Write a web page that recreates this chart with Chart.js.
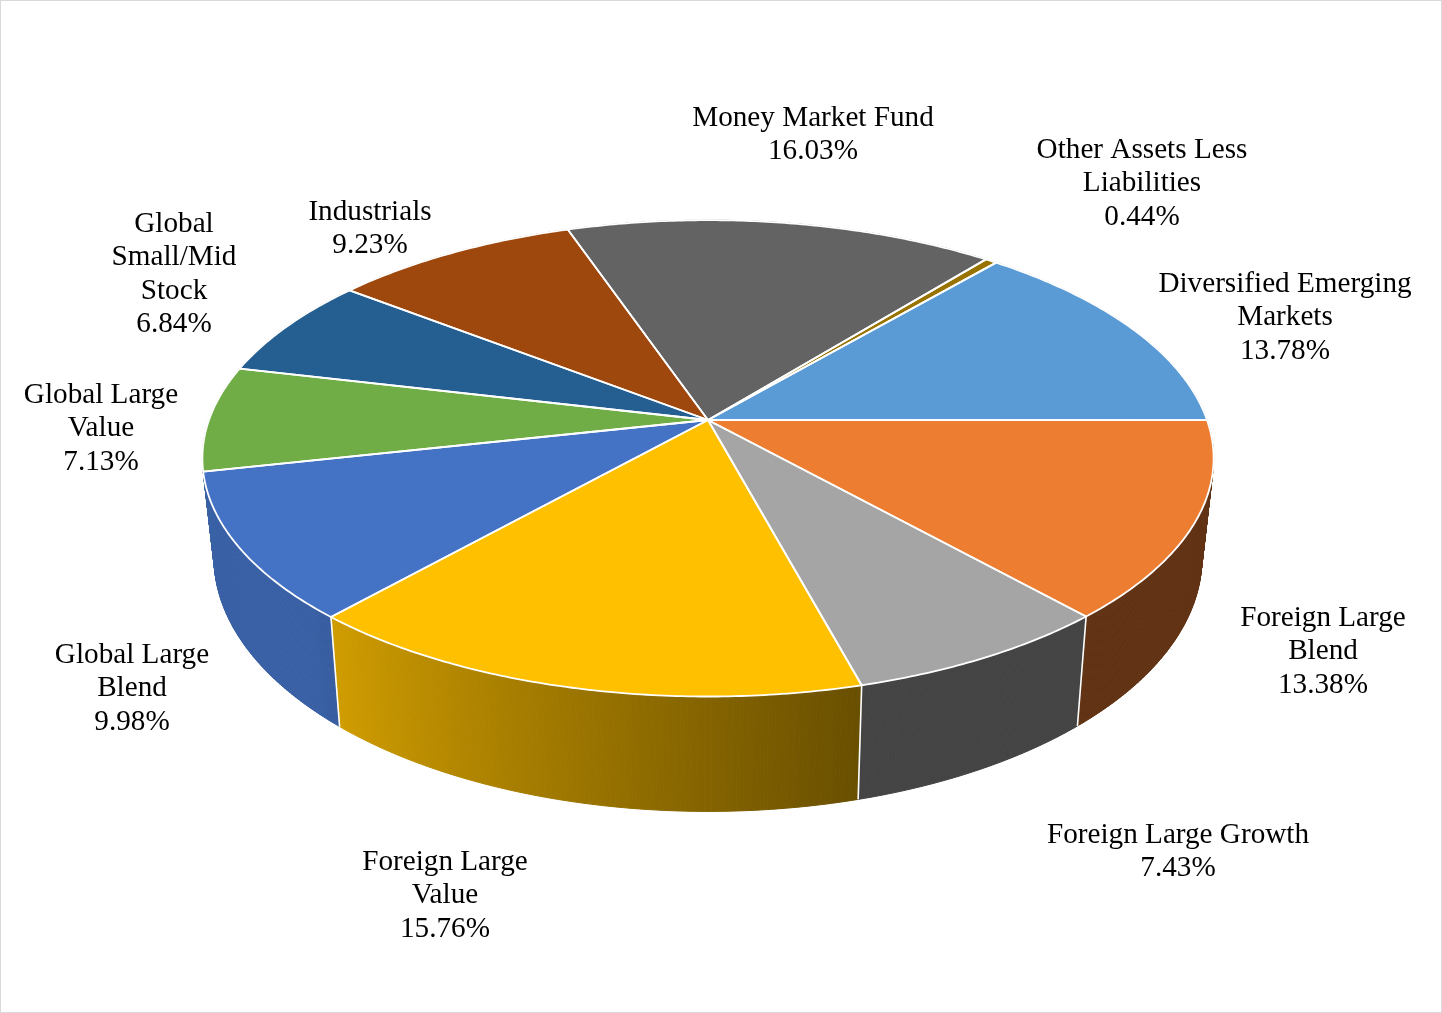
<!DOCTYPE html>
<html>
<head>
<meta charset="utf-8">
<style>
  html, body { margin: 0; padding: 0; background: #fff; }
  #wrap { width: 1440px; height: 1011px; border: 1px solid #d9d9d9; }
  canvas { display: block; }
</style>
<script src="https://cdn.jsdelivr.net/npm/chart.js@4.4.1/dist/chart.umd.min.js"></script>
</head>
<body>
<div id="wrap"><canvas id="chart" width="1440" height="1011"></canvas></div>
<script>
// data, in the order the slices run (clockwise from the right)
const categories = [
    "Diversified Emerging Markets",
    "Foreign Large Blend",
    "Foreign Large Growth",
    "Foreign Large Value",
    "Global Large Blend",
    "Global Large Value",
    "Global Small/Mid Stock",
    "Industrials",
    "Money Market Fund",
    "Other Assets Less Liabilities",
];
const shares = [13.78, 13.38, 7.43, 15.76, 9.98, 7.13, 6.84, 9.23, 16.03, 0.44];
const colors = [
    "#5B9BD5", "#ED7D31", "#A5A5A5", "#FFC000", "#4472C4",
    "#70AD47", "#255E91", "#9E480E", "#636363", "#997300",
];

// label layout: centre x, centre y of first line, wrap width (canvas px)
const labelPos = [
    [1284, 283, 275], [1322, 617, 195], [1177, 834, 300], [444, 861, 195],
    [131, 654, 172], [100, 394, 172], [173, 223, 132], [369, 211, 300],
    [812, 117, 300], [1141, 149, 235],
];

// 3d look
const START_ANGLE = 40.4;   // chart.js rotation, degrees from top
const SCALE_X = 1.2475;     // ellipse half width / radius
const SCALE_Y = 0.58;       // ellipse half height / radius
const PERSP = 0.161;        // near side bigger than far side
const DEPTH = 0.241;        // wall height / radius
const SHRINK = 0.977;       // bottom ring is a bit further away
const FONT = "29.2px 'Liberation Serif', 'Times New Roman', serif";
const LINE_H = 33.5;

const shade = (hex, f) => {
    const n = parseInt(hex.slice(1), 16);
    const r = Math.round(((n >> 16) & 255) * f);
    const g = Math.round(((n >> 8) & 255) * f);
    const b = Math.round((n & 255) * f);
    return `rgb(${r},${g},${b})`;
};

// light from the left: left wall bright, right wall dark
const wallLight = (t) => {
    let d = ((t * 180 / Math.PI) % 360 + 360) % 360;
    if (d > 270) return 0.41;
    if (d >= 135) return 0.84;
    if (d <= 75) return 0.41;
    return 0.41 + (d - 75) / 60 * 0.43;
};

const pie3d = {
    id: "pie3d",
    beforeDatasetsDraw(chart) {
        const ctx = chart.ctx;
        const arcs = chart.getDatasetMeta(0).data;
        if (!arcs.length) return false;
        const cx = arcs[0].x, cy = arcs[0].y, r = arcs[0].outerRadius;
        const rx = r * SCALE_X, ry = r * SCALE_Y, depth = r * DEPTH;

        const top = (t) => {
            const s = 1 / (1 - PERSP * Math.sin(t));
            return [cx + rx * Math.cos(t) * s, cy + ry * Math.sin(t) * s];
        };
        const bottom = (t) => {
            const s = 1 / (1 - PERSP * Math.sin(t));
            const p = top(t);
            return [cx + (p[0] - cx) * SHRINK, p[1] + depth * s];
        };

        // walls, far pieces first
        const quads = [];
        arcs.forEach((arc, i) => {
            const steps = Math.max(2, Math.ceil((arc.endAngle - arc.startAngle) / 0.006));
            const dt = (arc.endAngle - arc.startAngle) / steps;
            for (let k = 0; k < steps; k++) {
                const a = arc.startAngle + k * dt, b = a + dt;
                const m = (a + b) / 2;
                quads.push({ a, b, z: Math.sin(m), color: shade(colors[i], wallLight(m)) });
            }
        });
        quads.sort((p, q) => p.z - q.z);
        ctx.save();
        ctx.lineWidth = 1;
        quads.forEach((q) => {
            const p1 = top(q.a), p2 = top(q.b), p3 = bottom(q.b), p4 = bottom(q.a);
            ctx.beginPath();
            ctx.moveTo(p1[0], p1[1]);
            ctx.lineTo(p2[0], p2[1]);
            ctx.lineTo(p3[0], p3[1]);
            ctx.lineTo(p4[0], p4[1]);
            ctx.closePath();
            ctx.fillStyle = q.color;
            ctx.strokeStyle = q.color;
            ctx.fill();
            ctx.stroke();
        });

        // white seams on the visible wall
        ctx.strokeStyle = "#ffffff";
        ctx.lineWidth = 1.6;
        arcs.forEach((arc) => {
            const t = arc.startAngle;
            if (Math.sin(t) <= 0.3) return;
            const p = top(t), q = bottom(t);
            ctx.beginPath();
            ctx.moveTo(p[0], p[1]);
            ctx.lineTo(q[0], q[1]);
            ctx.stroke();
        });

        // top faces
        const outline = (arc) => {
            const steps = Math.max(2, Math.ceil((arc.endAngle - arc.startAngle) / 0.01));
            ctx.beginPath();
            ctx.moveTo(cx, cy);
            for (let k = 0; k <= steps; k++) {
                const p = top(arc.startAngle + (arc.endAngle - arc.startAngle) * k / steps);
                ctx.lineTo(p[0], p[1]);
            }
            ctx.closePath();
        };
        arcs.forEach((arc, i) => {
            outline(arc);
            ctx.fillStyle = colors[i];
            ctx.fill();
        });
        ctx.lineJoin = "round";
        ctx.lineWidth = 1.8;
        arcs.forEach((arc) => {
            outline(arc);
            ctx.stroke();
        });
        ctx.restore();
        return false;
    },
    afterDraw(chart) {
        const ctx = chart.ctx;
        ctx.save();
        ctx.font = FONT;
        ctx.fillStyle = "#000000";
        ctx.textAlign = "center";
        ctx.textBaseline = "middle";
        categories.forEach((name, i) => {
            const [x, y, wrap] = labelPos[i];
            const lines = [];
            let line = "";
            name.split(" ").forEach((w) => {
                const test = line ? line + " " + w : w;
                if (line && ctx.measureText(test).width > wrap) {
                    lines.push(line);
                    line = w;
                } else {
                    line = test;
                }
            });
            lines.push(line);
            lines.push(shares[i].toFixed(2) + "%");
            lines.forEach((l, k) => ctx.fillText(l, x, y + k * LINE_H));
        });
        ctx.restore();
    },
};

new Chart(document.getElementById("chart"), {
    type: "pie",
    data: {
        labels: categories,
        datasets: [{
            data: shares,
            backgroundColor: colors,
            borderWidth: 0,
            offset: 0,
            hoverOffset: 0,
        }],
    },
    options: {
        responsive: false,
        animation: false,
        devicePixelRatio: 1,
        events: [],
        rotation: START_ANGLE,
        layout: { padding: { left: 307, right: 333, top: 19, bottom: 192 } },
        plugins: {
            legend: { display: false },
            tooltip: { enabled: false },
        },
    },
    plugins: [pie3d],
});
</script>
</body>
</html>
